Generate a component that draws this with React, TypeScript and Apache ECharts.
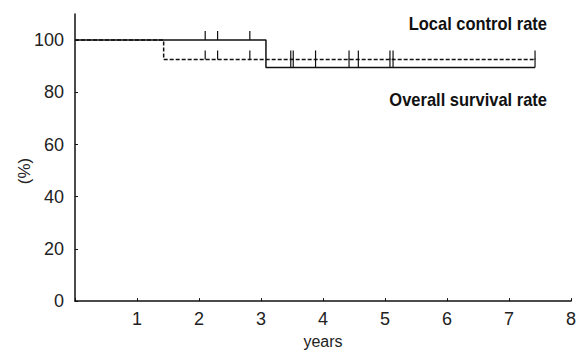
import React, { useEffect, useRef } from "react";
import * as echarts from "echarts";

// Step curves (years, %)
const overallSurvival: [number, number][] = [
  [0, 100],
  [3.08, 89.5],
  [7.42, 89.5],
];
const localControl: [number, number][] = [
  [0, 100],
  [1.43, 92.6],
  [7.42, 92.6],
];
// Censoring times (years)
const censorTimes = [2.1, 2.3, 2.82, 3.48, 3.52, 3.88, 4.42, 4.57, 5.08, 5.13, 7.42];
const yTicks = [0, 20, 40, 60, 80, 100];
const xTicks = [1, 2, 3, 4, 5, 6, 7, 8];

function stepValue(curve: [number, number][], t: number): number {
  let v = curve[0][1];
  for (const [x, y] of curve) if (x <= t) v = y;
  return v;
}

const censorData: [number, number][] = [];
for (const t of censorTimes) {
  censorData.push([t, stepValue(overallSurvival, t)]);
  censorData.push([t, stepValue(localControl, t)]);
}

export default function App() {
  const ref = useRef<HTMLDivElement>(null);
  useEffect(() => {
    const chart = echarts.init(ref.current!, null, { renderer: "svg" });
    const font = "Liberation Sans, Arial, sans-serif";
    chart.setOption({
      animation: false,
      grid: { left: 75, right: 12, top: 14, bottom: 43 },
      xAxis: {
        type: "value",
        min: 0,
        max: 8,
        interval: 1,
        name: "years",
        nameLocation: "middle",
        nameGap: 25,
        nameTextStyle: { fontSize: 16, color: "#222", fontFamily: font },
        axisLine: { lineStyle: { color: "#111", width: 1.5 } },
        axisTick: { inside: true, length: 3, lineStyle: { color: "#111" } },
        axisLabel: {
          fontSize: 18,
          color: "#222",
          fontFamily: font,
          margin: 9,
          showMaxLabel: true,
          formatter: (v: number) => (xTicks.includes(v) ? String(v) : ""),
        },
        splitLine: { show: false },
      },
      yAxis: {
        type: "value",
        min: 0,
        max: 110,
        axisLine: { show: true, lineStyle: { color: "#111", width: 1.5 } },
        axisTick: { inside: true, length: 3, customValues: yTicks, lineStyle: { color: "#111" } },
        axisLabel: {
          fontSize: 18,
          color: "#222",
          fontFamily: font,
          margin: 11,
          customValues: yTicks,
        },
        splitLine: { show: false },
      },
      series: [
        {
          type: "line",
          name: "Overall survival rate",
          step: "end",
          data: overallSurvival,
          showSymbol: false,
          lineStyle: { color: "#111", width: 1.5 },
        },
        {
          type: "line",
          name: "Local control rate",
          step: "end",
          data: localControl,
          showSymbol: false,
          lineStyle: { color: "#111", width: 1.5, type: [4, 2] },
        },
        {
          type: "custom",
          data: censorData,
          renderItem: (params: any, api: any) => {
            const p = api.coord([api.value(0), api.value(1)]);
            return {
              type: "line",
              shape: { x1: p[0], y1: p[1], x2: p[0], y2: p[1] - 9 },
              style: { stroke: "#111", lineWidth: 1.2 },
            };
          },
        },
      ],
      graphic: [
        {
          type: "text",
          x: 547,
          y: 24,
          scaleY: 1.15,
          style: {
            text: "Local control rate",
            font: `bold 16.5px ${font}`,
            fill: "#111",
            align: "right",
            verticalAlign: "middle",
          },
        },
        {
          type: "text",
          x: 547,
          y: 100,
          scaleY: 1.15,
          style: {
            text: "Overall survival rate",
            font: `bold 16.5px ${font}`,
            fill: "#111",
            align: "right",
            verticalAlign: "middle",
          },
        },
        {
          type: "text",
          x: 24,
          y: 171,
          rotation: Math.PI / 2,
          style: {
            text: "(%)",
            font: `17px ${font}`,
            fill: "#222",
            align: "center",
            verticalAlign: "middle",
          },
        },
      ],
    });
    return () => chart.dispose();
  }, []);
  return (
    <div
      ref={ref}
      style={{ position: "absolute", left: 0, top: 0, width: 583, height: 354 }}
    />
  );
}
